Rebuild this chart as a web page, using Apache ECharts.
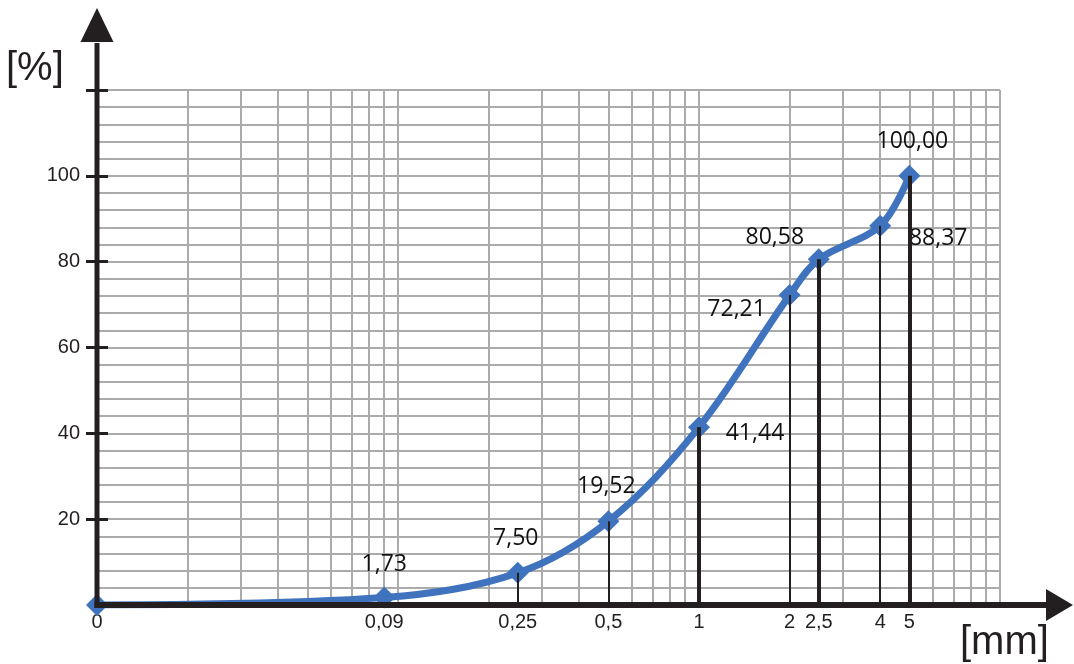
<!DOCTYPE html>
<html>
<head>
<meta charset="utf-8">
<script src="https://cdn.jsdelivr.net/npm/echarts@6/dist/echarts.min.js"></script>
<style>
  html, body { margin: 0; padding: 0; background: #fff; }
  #chart { width: 1074px; height: 664px; }
</style>
</head>
<body>
<div id="chart"></div>
<script>
// Sieve analysis: cumulative passing [%] against sieve opening [mm]
const sieveSizes  = [0, 0.09, 0.25, 0.5, 1, 2, 2.5, 4, 5];
const sieveLabels = ['0', '0,09', '0,25', '0,5', '1', '2', '2,5', '4', '5'];
const passing       = [0, 1.73, 7.50, 19.52, 41.44, 72.21, 80.58, 88.37, 100.00];
const passingLabels = ['', '1,73', '7,50', '19,52', '41,44', '72,21', '80,58', '88,37', '100,00'];
const yTickValues  = [20, 40, 60, 80, 100, 120];
const yLabelValues = [20, 40, 60, 80, 100];

// ---- layout & style ----
const X_MIN = 0.01, X_MAX = 10, Y_MIN = 0, Y_MAX = 120, Y_GRID_STEP = 4;
const INK = '#231f20', GRID = '#ababab', CURVE = '#3f73be';
const TICK_FONT = 'Liberation Sans', VALUE_FONT = 'Open Sans';
// the "0" sieve is placed at the left end of the log axis
const xPos = s => Math.max(s, X_MIN);
// value label offsets from each point's centre [dx, dy]
const labelOffsets = [[0, 0], [0, -33], [-2, -34], [-2, -35], [56, 6], [-53, 14], [-44, -22], [58, 13], [3, -34]];
// drop line width for each sieve (0 = no line)
const dropWidths = [0, 0, 2, 2, 4, 2, 4, 2, 4];

// logarithmic grid: 1..9 x 10^k across the axis range
const gridX = [];
for (let e = -2; e < 1; e++) {
  for (let m = 1; m <= 9; m++) gridX.push(+(m * Math.pow(10, e)).toPrecision(6));
}
gridX.push(X_MAX);

const xLabelFor = v => {
  let best = 0;
  sieveSizes.forEach((s, i) => {
    if (Math.abs(xPos(s) - v) < Math.abs(xPos(sieveSizes[best]) - v)) best = i;
  });
  return sieveLabels[best];
};

const chart = echarts.init(document.getElementById('chart'), null, { renderer: 'canvas' });

const yAxisBase = {
  type: 'value', min: Y_MIN, max: Y_MAX, interval: Y_GRID_STEP,
  position: 'left',
  axisLine: { show: false }
};

const option = {
  animation: false,
  backgroundColor: '#fff',
  grid: { left: 97, right: 74, top: 90, bottom: 59, containLabel: false, outerBoundsMode: 'none' },
  xAxis: {
    type: 'log', logBase: 10, min: X_MIN, max: X_MAX,
    axisLine: { show: false },
    axisTick: { show: false },
    splitLine: { show: false },
    axisLabel: {
      customValues: sieveSizes.map(xPos),
      formatter: xLabelFor,
      color: INK, fontFamily: TICK_FONT, fontSize: 20, margin: 7,
      showMinLabel: true, showMaxLabel: true, hideOverlap: false
    }
  },
  yAxis: [
    // fine horizontal grid every 4 %
    Object.assign({}, yAxisBase, {
      splitLine: { show: true, lineStyle: { color: GRID, width: 2 } },
      axisTick: { show: false },
      axisLabel: { show: false }
    }),
    // outer tick marks and labels
    Object.assign({}, yAxisBase, {
      splitLine: { show: false },
      axisTick: { show: true, customValues: yTickValues, length: 11, lineStyle: { color: INK, width: 3 } },
      axisLabel: { customValues: yLabelValues, color: INK, fontFamily: TICK_FONT, fontSize: 20, margin: 17 }
    }),
    // inner half of the tick marks
    Object.assign({}, yAxisBase, {
      splitLine: { show: false },
      axisTick: { show: true, inside: true, customValues: yTickValues, length: 11, lineStyle: { color: INK, width: 3 } },
      axisLabel: { show: false }
    })
  ],
  series: [
    {
      // vertical log grid lines
      type: 'line', data: [], silent: true,
      markLine: {
        silent: true, symbol: 'none', z: 1, animation: false,
        label: { show: false }, emphasis: { disabled: true },
        lineStyle: { color: GRID, width: 2, type: 'solid' },
        data: gridX.map(v => ({ xAxis: v }))
      }
    },
    {
      // grading curve
      type: 'line', z: 3,
      smooth: 0.35,
      symbol: 'diamond', symbolSize: 22,
      lineStyle: { color: CURVE, width: 7 },
      itemStyle: { color: CURVE },
      emphasis: { disabled: true },
      label: {
        show: true, position: 'inside', color: '#111',
        fontFamily: VALUE_FONT, fontSize: 23
      },
      data: sieveSizes.map((s, i) => ({
        value: [xPos(s), passing[i]],
        label: {
          show: passingLabels[i] !== '',
          formatter: passingLabels[i],
          offset: labelOffsets[i]
        }
      }))
    },
    {
      // drop lines from each point to the axis
      type: 'line', data: [], silent: true,
      markLine: {
        silent: true, symbol: 'none', z: 5, animation: false,
        label: { show: false }, emphasis: { disabled: true },
        lineStyle: { color: INK, type: 'solid' },
        data: sieveSizes.map((s, i) => ({ s, i })).filter(d => dropWidths[d.i] > 0).map(d => [
          { coord: [xPos(d.s), Y_MIN], lineStyle: { width: dropWidths[d.i], color: INK, type: 'solid' } },
          { coord: [xPos(d.s), passing[d.i]], lineStyle: { width: dropWidths[d.i], color: INK, type: 'solid' } }
        ])
      }
    }
  ]
};

chart.setOption(option);

// axes with arrow heads and unit captions, anchored to the plot origin
const origin = chart.convertToPixel({ xAxisIndex: 0, yAxisIndex: 0 }, [X_MIN, Y_MIN]);
const W = chart.getWidth();
const yArrowTip = 8, yArrowBase = 42, xArrowTip = W - 1, xArrowBase = W - 28;
chart.setOption({
  graphic: [
    { type: 'line', z: 100, shape: { x1: origin[0], y1: origin[1] + 3, x2: origin[0], y2: yArrowBase + 1 },
      style: { stroke: INK, lineWidth: 5 } },
    { type: 'polygon', z: 100, shape: { points: [[origin[0] - 16.5, yArrowBase], [origin[0] + 16.5, yArrowBase], [origin[0], yArrowTip]] },
      style: { fill: INK } },
    { type: 'line', z: 100, shape: { x1: origin[0] - 2.5, y1: origin[1], x2: xArrowBase + 1, y2: origin[1] },
      style: { stroke: INK, lineWidth: 6 } },
    { type: 'polygon', z: 100, shape: { points: [[xArrowBase, origin[1] - 16], [xArrowBase, origin[1] + 16], [xArrowTip, origin[1]]] },
      style: { fill: INK } },
    { type: 'text', z: 100, left: 6, top: 49,
      style: { text: '[%]', fill: INK, font: '40px "Liberation Sans"' } },
    { type: 'text', z: 100, left: 960, top: 623,
      style: { text: '[mm]', fill: INK, font: '40px "Liberation Sans"' } }
  ]
});
</script>
</body>
</html>
